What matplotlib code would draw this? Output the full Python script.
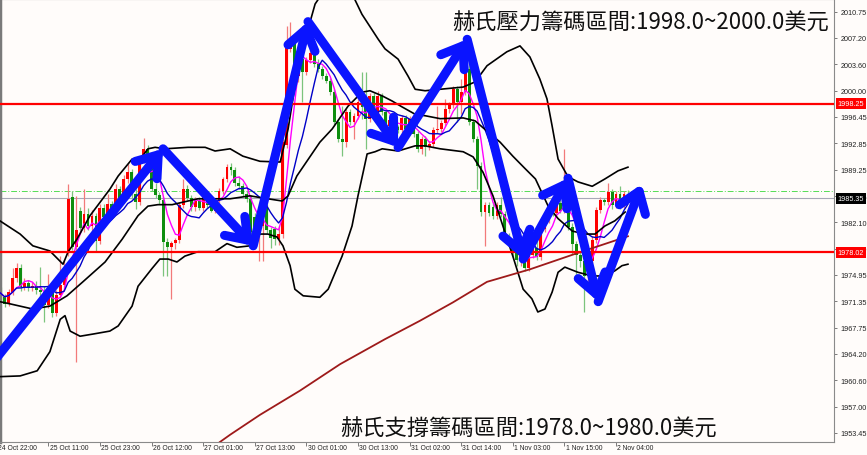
import matplotlib
matplotlib.use('Agg')
import matplotlib.pyplot as plt
import matplotlib.transforms as mtransforms
import numpy as np
import pandas as pd

plt.rcParams['font.family'] = ['Liberation Sans', 'DejaVu Sans']

# ── Paleta ─────────────────────────────────────────────
BG      = "#FFFCFA"
UP      = "#FF0000"
DOWN    = "#0E8E0E"
UP_W    = "#F27A7A"
DOWN_W  = "#7CC47C"
ARROW   = "#0A14FF"
BAND    = "#000000"
MAGENTA = "#FF00FF"
NAVY    = "#0000C8"
BROWN   = "#9E1A1A"
LEVEL   = "#FF0000"

# ── Datos (velas H1, XAUUSD) ───────────────────────────
opens = [
    1972.4, 1972.9, 1972.0, 1971.0, 1972.6, 1974.5, 1975.9, 1973.3, 1973.9, 1973.2,
    1973.5, 1972.9, 1972.6, 1970.9, 1972.9, 1969.7, 1972.2, 1973.6, 1977.9, 1985.6,
    1978.8, 1983.6, 1981.3, 1983.2, 1981.6, 1982.9, 1979.6, 1984.0, 1982.8, 1984.6,
    1983.6, 1986.6, 1985.4, 1988.0, 1989.0, 1986.0, 1984.8, 1990.7, 1992.1, 1990.8,
    1986.6, 1985.8, 1985.2, 1979.4, 1978.8, 1979.3, 1979.7, 1984.5, 1986.6, 1985.4,
    1984.2, 1985.0, 1984.1, 1986.0, 1984.5, 1983.7, 1985.0, 1986.4, 1988.0, 1989.6,
    1989.2, 1987.5, 1987.0, 1986.0, 1985.3, 1982.8, 1981.0, 1981.6, 1984.2, 1981.0,
    1981.2, 1979.8, 1980.5, 1992.6, 2005.7, 2007.0, 2002.0, 2004.3, 2002.6, 2004.2,
    2005.2, 2003.6, 2003.0, 2002.0, 2001.3, 1999.8, 1995.7, 1993.4, 1993.0, 1997.1,
    1995.8, 1996.6, 1998.5, 1997.8, 1996.2, 1999.3, 1996.8, 1999.3, 1997.1, 1995.2,
    1996.0, 1995.0, 1994.7, 1996.3, 1994.8, 1996.1, 1994.1, 1992.1, 1993.5, 1992.4,
    1992.8, 1994.6, 1994.8, 1995.6, 1997.5, 1998.0, 2000.2, 1998.4, 1999.8, 2003.0,
    1995.7, 1993.4, 1989.8, 1983.5, 1984.4, 1984.2, 1983.0, 1984.4, 1983.2, 1980.3,
    1979.6, 1978.2, 1977.0, 1977.6, 1975.9, 1977.6, 1978.6, 1977.4, 1981.2, 1982.5,
    1983.6, 1983.3, 1984.7, 1983.7, 1986.1, 1981.5, 1979.2, 1977.7, 1976.8, 1974.8,
    1976.9, 1979.7, 1983.8, 1985.1, 1984.9, 1986.2, 1984.4, 1986.0, 1984.4, 1985.9,
]
highs = [
    1973.4, 1973.3, 1972.4, 1973.0, 1975.9, 1976.6, 1976.4, 1974.5, 1974.3, 1974.0,
    1974.1, 1976.0, 1973.4, 1975.1, 1973.2, 1972.9, 1977.5, 1977.0, 1987.3, 1986.3,
    1985.7, 1984.2, 1986.6, 1984.0, 1983.8, 1983.3, 1984.6, 1984.6, 1985.9, 1985.0,
    1987.3, 1987.0, 1988.6, 1990.0, 1989.4, 1986.6, 1990.8, 1993.6, 1992.6, 1991.2,
    1987.4, 1986.2, 1985.6, 1979.9, 1979.6, 1979.9, 1984.8, 1988.0, 1987.2, 1985.8,
    1985.6, 1985.5, 1986.6, 1986.4, 1985.0, 1985.4, 1986.8, 1988.3, 1990.0, 1990.2,
    1989.6, 1988.4, 1987.4, 1986.4, 1985.8, 1983.3, 1982.0, 1984.8, 1984.6, 1981.5,
    1981.6, 1981.6, 1993.4, 2008.8, 2009.3, 2007.4, 2004.7, 2004.8, 2004.6, 2005.8,
    2005.6, 2004.3, 2003.4, 2002.4, 2001.7, 2000.2, 1996.1, 1997.9, 1997.5, 1997.5,
    1997.0, 1998.9, 2002.6, 2002.5, 1999.7, 1999.7, 1999.9, 1999.7, 1997.5, 1996.4,
    1996.4, 1995.4, 1996.7, 1996.7, 1996.6, 1996.5, 1994.5, 1993.9, 1993.9, 1993.2,
    1995.0, 1997.9, 1996.0, 1998.9, 1998.5, 2000.6, 2000.6, 2001.6, 2004.3, 2007.0,
    1996.1, 1993.8, 1990.3, 1984.9, 1984.9, 1984.8, 1984.8, 1985.5, 1983.6, 1980.7,
    1980.0, 1978.6, 1978.0, 1978.0, 1978.0, 1979.0, 1979.8, 1981.6, 1982.8, 1983.9,
    1984.0, 1985.0, 1985.4, 1992.1, 1986.5, 1982.0, 1979.6, 1978.2, 1977.2, 1977.3,
    1980.2, 1984.2, 1985.5, 1985.4, 1987.5, 1986.6, 1986.4, 1987.0, 1986.3, 1986.5,
]
lows = [
    1971.8, 1971.5, 1970.6, 1970.7, 1972.2, 1974.0, 1972.8, 1972.9, 1972.7, 1972.8,
    1972.3, 1970.3, 1968.5, 1970.4, 1969.2, 1969.3, 1971.9, 1973.1, 1977.5, 1978.3,
    1963.1, 1980.6, 1980.8, 1981.0, 1980.2, 1978.0, 1979.2, 1982.1, 1982.4, 1983.0,
    1983.2, 1985.0, 1985.0, 1987.5, 1985.3, 1983.9, 1984.4, 1990.2, 1990.5, 1986.3,
    1985.4, 1984.6, 1974.8, 1974.8, 1971.7, 1978.4, 1979.3, 1984.1, 1985.1, 1983.6,
    1983.7, 1983.8, 1983.7, 1984.0, 1983.5, 1983.4, 1984.7, 1986.0, 1987.6, 1988.6,
    1987.0, 1986.6, 1985.7, 1984.9, 1980.0, 1978.4, 1976.8, 1976.9, 1980.6, 1978.6,
    1979.0, 1979.0, 1980.0, 1992.2, 2005.3, 2002.6, 2001.2, 1998.5, 2002.2, 2003.8,
    2003.2, 2002.6, 2001.6, 2001.0, 1999.4, 1995.3, 1993.0, 1991.1, 1992.4, 1995.4,
    1993.4, 1996.2, 1996.2, 1992.1, 1995.8, 1996.4, 1996.4, 1996.7, 1994.8, 1994.8,
    1994.6, 1994.2, 1994.3, 1994.4, 1994.4, 1993.7, 1991.7, 1991.4, 1991.1, 1992.0,
    1992.4, 1994.2, 1994.4, 1995.2, 1997.0, 1997.6, 1995.7, 1996.8, 1999.4, 1995.3,
    1993.0, 1986.6, 1983.0, 1978.9, 1983.0, 1982.6, 1982.6, 1982.8, 1979.8, 1978.8,
    1977.4, 1976.1, 1976.1, 1975.5, 1975.5, 1977.2, 1977.0, 1977.0, 1980.8, 1982.0,
    1982.9, 1983.0, 1983.3, 1983.3, 1981.1, 1977.8, 1974.6, 1976.0, 1969.9, 1973.4,
    1976.5, 1979.3, 1983.4, 1984.5, 1984.5, 1983.9, 1984.0, 1983.9, 1984.0, 1985.0,
]
closes = [
    1972.9, 1972.0, 1971.0, 1972.6, 1974.5, 1975.9, 1973.3, 1973.9, 1973.2, 1973.5,
    1972.9, 1972.6, 1970.9, 1972.9, 1969.7, 1972.2, 1973.6, 1975.8, 1985.3, 1978.8,
    1981.0, 1981.3, 1983.2, 1981.6, 1982.9, 1979.6, 1984.0, 1982.8, 1984.6, 1983.6,
    1986.6, 1985.4, 1988.0, 1989.0, 1986.0, 1984.8, 1990.7, 1992.1, 1990.8, 1986.6,
    1985.8, 1985.2, 1979.4, 1978.8, 1979.3, 1979.7, 1984.5, 1986.6, 1985.4, 1984.2,
    1985.0, 1984.1, 1986.0, 1984.5, 1983.7, 1985.0, 1986.4, 1988.0, 1989.6, 1989.2,
    1987.5, 1987.0, 1986.0, 1985.3, 1980.8, 1981.0, 1981.6, 1984.2, 1981.0, 1979.9,
    1979.8, 1980.5, 1993.0, 2006.6, 2007.0, 2003.0, 2004.3, 2002.6, 2004.2, 2005.2,
    2003.6, 2003.0, 2002.0, 2001.3, 1999.8, 1995.7, 1993.4, 1993.0, 1997.1, 1995.8,
    1996.6, 1998.5, 1997.8, 1996.2, 1999.3, 1996.8, 1999.3, 1997.1, 1995.2, 1996.0,
    1995.0, 1994.7, 1996.3, 1994.8, 1996.1, 1994.1, 1992.1, 1993.5, 1992.4, 1992.8,
    1994.6, 1994.8, 1995.6, 1997.5, 1998.0, 2000.2, 1998.4, 1999.8, 2003.9, 1995.7,
    1993.4, 1989.8, 1983.5, 1984.4, 1983.4, 1983.0, 1984.4, 1983.2, 1980.3, 1979.6,
    1978.2, 1977.0, 1977.6, 1975.9, 1977.6, 1978.6, 1977.4, 1981.2, 1982.5, 1983.6,
    1983.3, 1984.7, 1983.7, 1986.1, 1981.5, 1979.2, 1977.7, 1976.8, 1974.8, 1976.9,
    1979.7, 1983.8, 1985.1, 1984.9, 1986.2, 1984.4, 1986.0, 1984.4, 1985.9, 1985.35,
]

# Bandas de Bollinger (índice de vela, precio)
upper_x = [0.8, 5.9, 9.1, 13.4, 16.7, 18.0, 20.2, 23.5, 28.5, 30.6, 34.1, 35.6, 38.1, 39.9,
           42.4, 48.2, 52.5, 55.0, 58.8, 62.0, 66.3, 71.4, 73.4, 75.4, 77.7, 80.2, 82.7,
           86.5, 89.5, 92.0, 96.1, 97.8, 101.1, 103.6, 105.4, 107.9, 111.7, 117.5, 120.5,
           123.5, 128.5, 131.8, 134.3, 136.8, 138.6, 139.9, 141.4, 143.9, 146.4, 150.0,
           153.2, 156.5, 159.0]
upper_y = [1982.3, 1980.5, 1978.9, 1978.2, 1976.4, 1978.1, 1979.8, 1983.0, 1986.6, 1988.4,
           1990.7, 1990.3, 1992.1, 1992.3, 1992.1, 1992.3, 1992.3, 1991.8, 1992.1, 1991.1,
           1990.4, 1990.3, 1994.8, 2001.6, 2007.0, 2011.8, 2013.8, 2014.5, 2013.2, 2010.4,
           2007.0, 2005.7, 2004.3, 2002.0, 2000.2, 2000.0, 2000.2, 2000.5, 2001.2, 2003.4,
           2005.3, 2006.1, 2004.6, 2001.6, 1998.9, 1995.2, 1990.7, 1988.3, 1987.6, 1987.0,
           1988.0, 1989.1, 1989.6]
mid_x = [0.8, 3.4, 9.1, 13.4, 17.7, 21.7, 27.3, 31.6, 35.6, 38.1, 40.6, 44.2, 47.4, 50.7,
         55.0, 58.8, 63.8, 67.1, 71.9, 73.4, 75.6, 81.4, 84.5, 88.5, 92.0, 94.0, 97.1,
         99.6, 102.1, 105.4, 107.9, 111.7, 117.5, 120.5, 123.5, 126.8, 130.0, 133.1,
         135.7, 138.9, 141.4, 145.0, 148.2, 150.7, 153.2, 155.7, 158.3]
mid_y = [1971.3, 1971.0, 1970.3, 1970.7, 1972.1, 1974.0, 1976.7, 1979.8, 1983.0, 1984.3,
         1984.5, 1984.5, 1984.9, 1985.3, 1985.3, 1985.3, 1985.7, 1985.4, 1985.0, 1985.7,
         1988.4, 1993.0, 1994.8, 1997.9, 1999.8, 2000.0, 1999.3, 1998.6, 1997.8, 1996.8,
         1996.6, 1996.2, 1996.3, 1995.9, 1994.5, 1993.0, 1991.1, 1989.4, 1988.0, 1984.3,
         1982.6, 1980.9, 1980.5, 1980.5, 1981.6, 1982.3, 1983.5]
lower_x = [0.8, 5.9, 10.2, 13.4, 16.0, 17.2, 18.5, 21.0, 24.3, 28.5, 30.6, 34.1, 35.6, 39.1,
           41.1, 43.2, 45.4, 47.4, 50.7, 55.0, 58.0, 60.5, 63.8, 66.3, 68.3, 70.6, 72.1,
           73.9, 75.1, 77.2, 81.4, 83.5, 87.0, 89.5, 91.0, 92.3, 93.3, 95.3, 97.1, 101.1,
           105.4, 107.9, 111.7, 117.5, 120.0, 122.5, 125.0, 127.5, 130.0, 132.6, 134.8,
           136.3, 138.1, 139.9, 141.4, 143.1, 146.4, 150.0, 153.2, 155.7, 157.5, 159.0]
lower_y = [1961.1, 1961.2, 1961.9, 1964.5, 1968.9, 1969.4, 1967.3, 1966.6, 1966.9, 1967.3,
           1968.0, 1970.7, 1973.4, 1975.8, 1977.1, 1977.1, 1976.7, 1977.5, 1978.1, 1978.1,
           1979.2, 1978.7, 1978.9, 1980.5, 1980.5, 1980.1, 1978.9, 1976.2, 1973.0, 1972.1,
           1971.9, 1973.0, 1977.5, 1981.6, 1985.7, 1988.9, 1991.4, 1991.7, 1992.1, 1991.8,
           1992.5, 1992.5, 1992.1, 1991.7, 1991.0, 1988.9, 1985.7, 1981.6, 1977.5, 1973.0,
           1971.7, 1969.9, 1970.3, 1972.6, 1975.3, 1976.0, 1975.3, 1974.8, 1974.8, 1975.5,
           1976.2, 1976.4]

# Media larga (marrón)
slow_x = [56.2, 58.8, 66.3, 76.4, 86.5, 97.8, 106.6, 114.9, 123.5, 134.3, 146.2, 159.0]
slow_y = [1952.2, 1953.2, 1955.9, 1959.2, 1962.8, 1966.2, 1968.7, 1971.2, 1974.0, 1975.7,
          1977.9, 1980.2]

# Flechas azules (zigzag)
arrow_x = [-0.4, 41.9, 64.6, 78.4, 101.1, 118.5, 132.6, 143.9, 151.5, 162.5]
arrow_y = [1963.4, 1992.1, 1978.9, 2009.4, 1992.3, 2007.0, 1977.1, 1988.1, 1971.3, 1987.3]

resistance = 1998.25
support = 1978.02
bid = 1985.35
ask = 1986.35

yticks = [2010.75, 2007.20, 2003.60, 2000.00, 1996.45, 1992.85, 1989.25, 1985.65, 1982.10,
          1978.50, 1974.95, 1971.35, 1967.75, 1964.20, 1960.60, 1957.00, 1953.45]
xtick_bars = [0, 13, 26, 39, 52, 65, 78, 91, 104, 117, 130, 143, 156]
xtick_labels = ["24 Oct 22:00", "25 Oct 11:00", "25 Oct 23:00", "26 Oct 12:00", "27 Oct 01:00",
                "27 Oct 13:00", "30 Oct 01:00", "30 Oct 13:00", "31 Oct 02:00", "31 Oct 14:00",
                "1 Nov 03:00", "1 Nov 15:00", "2 Nov 04:00"]

title_top = "赫氏壓力籌碼區間:1998.0~2000.0美元"
title_bottom = "赫氏支撐籌碼區間:1978.0~1980.0美元"

# ── Figura ─────────────────────────────────────────────
fig = plt.figure(figsize=(8.67, 4.56), dpi=100)
fig.patch.set_facecolor(BG)
ax = fig.add_axes([0.0, 13 / 456, 834 / 867, 443 / 456])
ax.set_facecolor(BG)

o = np.array(opens); h = np.array(highs); l = np.array(lows); c = np.array(closes)
idx = np.arange(len(c))
up = c >= o

# velas
ax.vlines(idx[up], l[up], h[up], color=UP_W, lw=0.9, zorder=2)
ax.vlines(idx[~up], l[~up], h[~up], color=DOWN_W, lw=0.9, zorder=2)
body_lo = np.minimum(o, c)
body_h = np.maximum(np.abs(c - o), 0.12)
ax.bar(idx[up], body_h[up], bottom=body_lo[up], width=0.72, color=UP, lw=0, zorder=2.2)
ax.bar(idx[~up], body_h[~up], bottom=body_lo[~up], width=0.72, color=DOWN, lw=0, zorder=2.2)

# indicadores
cs = pd.Series(closes)
ax.plot(idx, cs.rolling(5, min_periods=1).mean(), color=MAGENTA, lw=1.0, zorder=3)
ax.plot(idx, cs.rolling(10, min_periods=1).mean(), color=NAVY, lw=1.0, zorder=3)
for bx, by in [(upper_x, upper_y), (mid_x, mid_y), (lower_x, lower_y)]:
    ax.plot(bx, by, color=BAND, lw=1.2, zorder=3)
ax.plot(slow_x, slow_y, color=BROWN, lw=1.3, zorder=3)

# niveles
ax.axhline(ask, color="#55DD55", lw=0.7, ls=(0, (6, 2, 1, 2)), zorder=1.5)
ax.axhline(bid, color="#A8A8B8", lw=0.8, zorder=1.5)
ax.axhline(resistance, color=LEVEL, lw=1.6, zorder=4)
ax.axhline(support, color=LEVEL, lw=1.6, zorder=4)

# flechas
for k in range(len(arrow_x) - 1):
    ax.annotate("", xy=(arrow_x[k + 1], arrow_y[k + 1]), xytext=(arrow_x[k], arrow_y[k]),
                arrowprops=dict(arrowstyle="->,head_length=0.7,head_width=0.5",
                                color=ARROW, lw=6.5, shrinkA=0, shrinkB=0,
                                mutation_scale=20),
                zorder=5, annotation_clip=False)

ax.set_xlim(0.83, 210.9)
ax.set_ylim(1952.21, 2012.48)

# ejes
ax.yaxis.tick_right()
ax.set_yticks(yticks)
ax.set_yticklabels([f"{v:.2f}" for v in yticks])
ax.tick_params(axis="y", direction="out", length=2.5, width=0.6, colors="#666666",
               labelcolor="#222222", labelsize=5.2, pad=2)
ax.set_xticks([b for b in xtick_bars if b > 0.83])
ax.set_xticklabels([])
ax.tick_params(axis="x", direction="out", length=3, width=0.6, colors="#666666")
for sp in ax.spines.values():
    sp.set_color("#8A8A8A"); sp.set_linewidth(0.8)
ax.spines["left"].set_linewidth(2.5)
ax.spines["left"].set_color("#7A7A7A")

trans = mtransforms.blended_transform_factory(ax.transData, ax.transAxes)
for b, lab in zip(xtick_bars, xtick_labels):
    ax.text(b + 0.3, -0.0135, lab, transform=trans, ha="left", va="center",
            fontsize=4.9, color="#222222", clip_on=False)

# etiquetas de precio
ytrans = mtransforms.blended_transform_factory(ax.transAxes, ax.transData)
for val, fc in [(resistance, LEVEL), (support, LEVEL), (bid, "#000000")]:
    ax.text(1.004, val, f"{val:.2f}", transform=ytrans, ha="left", va="center",
            fontsize=5.2, color="white", zorder=10, clip_on=False,
            bbox=dict(boxstyle="square,pad=0.25", fc=fc, ec="none"))

# textos
cjk = ["Noto Sans CJK TC", "DejaVu Sans"]
fig.text(452 / 867, 1 - 23 / 456, title_top, ha="left", va="center",
         fontsize=16, color="#111111", family=cjk, zorder=10)
fig.text(340 / 867, 1 - 429 / 456, title_bottom, ha="left", va="center",
         fontsize=16, color="#111111", family=cjk, zorder=10)

plt.savefig("out.png", dpi=100, facecolor=BG)
plt.close()
